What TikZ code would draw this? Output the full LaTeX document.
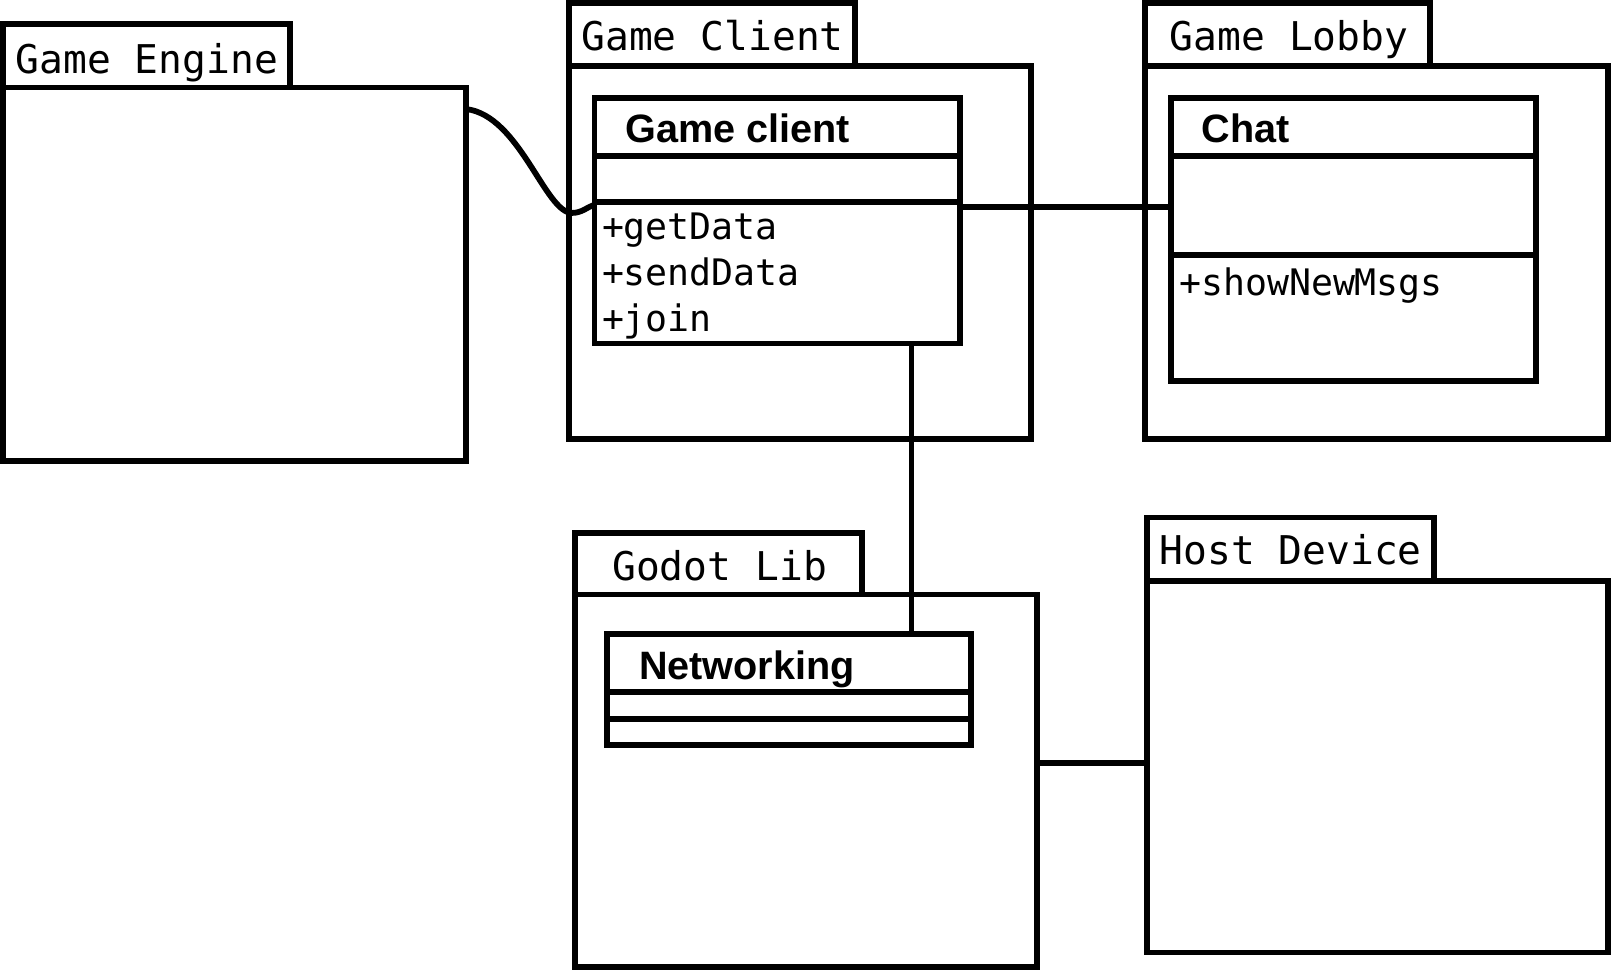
\documentclass[tikz,border=0pt]{standalone}
\usepackage{fontspec}
\setmonofont{DejaVu Sans Mono}
\newfontfamily\clsfont{Liberation Sans}
\usetikzlibrary{positioning}

\begin{document}
\begin{tikzpicture}[
    x=1pt, y=-1pt,
    box/.style={rectangle, draw, line width=5.6pt, outer sep=0pt, inner sep=0pt, anchor=north west},
    part/.style={rectangle, draw, line width=5.6pt, outer sep=0pt, inner sep=0pt},
    pkgname/.style={font=\ttfamily\fontsize{38.5}{46}\selectfont, inner sep=0pt, anchor=base west},
    clsname/.style={font=\clsfont\bfseries\fontsize{38.5}{46}\selectfont, inner sep=0pt, anchor=base west},
    meth/.style={font=\ttfamily\fontsize{35.5}{44}\selectfont, inner sep=0pt, anchor=base west},
    conn/.style={line width=5.6pt}]
    \useasboundingbox (0,0) rectangle (1568,944);

    % packages
    \node[box, minimum width=279pt, minimum height=62pt] (engtab) at (3,23) {};
    \node[box, minimum width=450pt, minimum height=363pt] (engbox) at (engtab.south west) {};
    \node[pkgname] (engname) at (15,71) {Game Engine};

    \node[box, minimum width=278pt, minimum height=61pt] (clitab) at (553,3) {};
    \node[box, minimum width=449pt, minimum height=363pt] (clibox) at (clitab.south west) {};
    \node[pkgname] (cliname) at (565,49.5) {Game Client};

    \node[box, minimum width=277pt, minimum height=61pt] (lobtab) at (1113,3) {};
    \node[box, minimum width=450pt, minimum height=363pt] (lobbox) at (lobtab.south west) {};
    \node[pkgname] (lobname) at (1137,49) {Game Lobby};

    \node[box, minimum width=279pt, minimum height=60pt] (godtab) at (559,518) {};
    \node[box, minimum width=449pt, minimum height=362pt] (godbox) at (godtab.south west) {};
    \node[pkgname] (godname) at (595,564) {Godot Lib};

    \node[box, minimum width=279pt, minimum height=62pt] (hosttab) at (1115,503) {};
    \node[box, minimum width=448pt, minimum height=361pt] (hostbox) at (hosttab.south west) {};
    \node[pkgname] (hostname) at (1127,549) {Host Device};

    % classes
    \node[part, anchor=north west, minimum width=355pt, minimum height=57pt] (gctitle) at (578,95) {};
    \node[part, minimum width=355pt, minimum height=44pt, below=0pt of gctitle] (gcattr) {};
    \node[part, minimum width=355pt, minimum height=138pt, below=0pt of gcattr] (gcmeth) {};
    \node[clsname] (gcname) at (608,139) {Game client};
    \node[meth] (gcget) at (585,233) {+getData};
    \node[meth] (gcsend) at (585,278) {+sendData};
    \node[meth] (gcjoin) at (585,322) {+join};

    \node[part, anchor=north west, minimum width=355pt, minimum height=57pt] (chattitle) at (1138,95) {};
    \node[part, minimum width=355pt, minimum height=96pt, below=0pt of chattitle] (chatattr) {};
    \node[part, minimum width=355pt, minimum height=122pt, below=0pt of chatattr] (chatmeth) {};
    \node[clsname] (chatname) at (1168,139) {Chat};
    \node[meth] (chatshow) at (1146,287) {+showNewMsgs};

    \node[part, anchor=north west, minimum width=354pt, minimum height=57pt] (nettitle) at (590,616) {};
    \node[part, minimum width=354pt, minimum height=26pt, below=0pt of nettitle] (netattr) {};
    \node[part, minimum width=354pt, minimum height=25pt, below=0pt of netattr] (netmeth) {};
    \node[clsname] (netname) at (621,661) {Networking};

    % links
    \coordinate (gcport) at ([yshift=-5pt]gcmeth.north east);
    \coordinate (gcdown) at ([xshift=-47pt]gcmeth.south east);
    \coordinate (hostport) at ([yshift=4pt]hostbox.west);
    \draw[conn] ([yshift=-21pt]engbox.north east) .. controls +(52,6) and +(-26,0) .. (556,207)
        .. controls +(10,0) and +(-7,2) .. ([yshift=-3pt]gcmeth.north west);
    \draw[conn] (gcport) -- (gcport -| chatattr.west);
    \draw[conn] (gcdown) -- (gcdown |- nettitle.north);
    \draw[conn] (hostport) -- (hostport -| godbox.east);
\end{tikzpicture}
\end{document}
